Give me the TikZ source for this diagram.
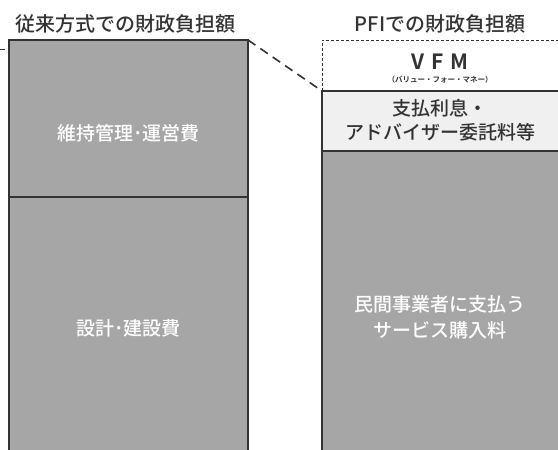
\documentclass[tikz,border=0pt]{standalone}
\usepackage{fontspec}
\newfontfamily\jp[BoldFont={Noto Sans CJK JP Bold}]{Noto Sans CJK JP Medium}
\definecolor{costgray}{HTML}{A6A6A6}
\definecolor{paygray}{HTML}{F0F0F0}
\definecolor{edgegray}{HTML}{333333}
\definecolor{inkgray}{HTML}{333333}

\tikzset{
  cost/.style={draw=edgegray, line width=1.6pt, fill=costgray},
  extra/.style={draw=edgegray, line width=1.6pt, fill=paygray},
  headtext/.style={font=\jp\fontsize{20}{24}\selectfont, text=inkgray},
  boxtext/.style={font=\jp\fontsize{19}{26}\selectfont, text=white, align=center},
  paytext/.style={font=\jp\fontsize{19}{24}\selectfont, text=inkgray, align=center},
}

\begin{document}
\begin{tikzpicture}[x=1pt,y=-1pt]
\useasboundingbox (0,0) rectangle (558,450);
\clip (0,0) rectangle (558,450);

% headings
\node[headtext] (oldhead) at (126,24) {従来方式での財政負担額};
\node[headtext] (pfihead) at (440,24) {PFIでの財政負担額};

% conventional way
\draw[cost] (9,40) rectangle (248,470);
\draw[cost] (9,40) rectangle (248,197);
\node[boxtext] (upkeep) at (128.5,133) {維持管理･運営費};
\node[boxtext] (build) at (128.5,328) {設計･建設費};
\draw[draw=edgegray, line width=0.8pt] (0,49) -- (5,49);

% PFI
\draw[draw=inkgray, line width=0.9pt, dash pattern=on 3pt off 2pt] (322,91) -- (322,40) -- (570,40);
\node[font=\jp\bfseries\fontsize{21}{24}\selectfont, text=inkgray] (vfm) at (440,62) {V\,\,F\,\,M};
\node[font=\jp\bfseries\fontsize{7.5}{9}\selectfont, text=inkgray] (vfmread) at (440,80) {（バリュー・フォー・マネー）};
\draw[extra] (322,91) rectangle (570,151);
\draw[cost] (322,151) rectangle (570,480);
\node[paytext] (interest) at (440,120) {支払利息・\\アドバイザー委託料等};
\node[boxtext] (service) at (440,317) {民間事業者に支払う\\サービス購入料};

% gap between the two
\coordinate (oldtop) at (248,40);
\coordinate (pfitop) at (322,91);
\draw[draw=edgegray, line width=1.6pt, dash pattern=on 9pt off 6pt] (oldtop) -- (pfitop);
\end{tikzpicture}
\end{document}
